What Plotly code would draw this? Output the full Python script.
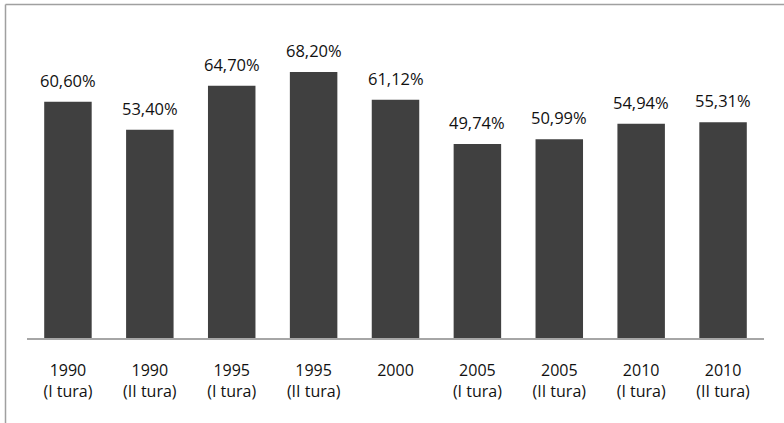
import plotly.graph_objects as go

categories = ["1990<br>(I tura)", "1990<br>(II tura)", "1995<br>(I tura)", "1995<br>(II tura)",
              "2000", "2005<br>(I tura)", "2005<br>(II tura)", "2010<br>(I tura)", "2010<br>(II tura)"]
turnout = [60.60, 53.40, 64.70, 68.20, 61.12, 49.74, 50.99, 54.94, 55.31]
value_labels = ["60,60%", "53,40%", "64,70%", "68,20%", "61,12%", "49,74%", "50,99%", "54,94%", "55,31%"]

W, H = 784, 423
ML, MR, MT, MB = 27, 20, 26, 85
FONT = "Open Sans, Liberation Sans, sans-serif"

fig = go.Figure(go.Bar(
    x=list(range(len(categories))),
    y=turnout,
    marker=dict(color="#404040", line=dict(width=0)),
    width=0.58,
))

# value labels above each bar
for i, (v, t) in enumerate(zip(turnout, value_labels)):
    fig.add_annotation(x=i, y=v, text=t, showarrow=False, yanchor="bottom",
                       yshift=8, font=dict(family=FONT, size=16.5, color="#111111"))

# frame lines (top and left edge of the chart area)
pw, ph = W - ML - MR, H - MT - MB
top_y = 1 + (MT - 4.5) / ph
left_x = (5.5 - ML) / pw
fig.add_shape(type="line", xref="paper", yref="paper", x0=left_x, x1=(W - ML) / pw,
              y0=top_y, y1=top_y, line=dict(color="#a0a0a0", width=1.5))
fig.add_shape(type="line", xref="paper", yref="paper", x0=left_x, x1=left_x,
              y0=top_y, y1=-MB / ph - 0.05, line=dict(color="#a0a0a0", width=1.5))

fig.update_layout(
    width=W, height=H,
    margin=dict(l=ML, r=MR, t=MT, b=MB),
    paper_bgcolor="white", plot_bgcolor="white",
    showlegend=False,
    xaxis=dict(tickmode="array", tickvals=list(range(len(categories))), ticktext=categories,
               range=[-0.5, len(categories) - 0.5], showgrid=False, zeroline=False,
               showline=True, linecolor="#a6a6a6", linewidth=1.5, ticks="",
               ticklabelstandoff=17,
               tickfont=dict(family=FONT, size=16, color="#111111")),
    yaxis=dict(range=[0, 80], visible=False),
)

fig.write_html("out.html")
